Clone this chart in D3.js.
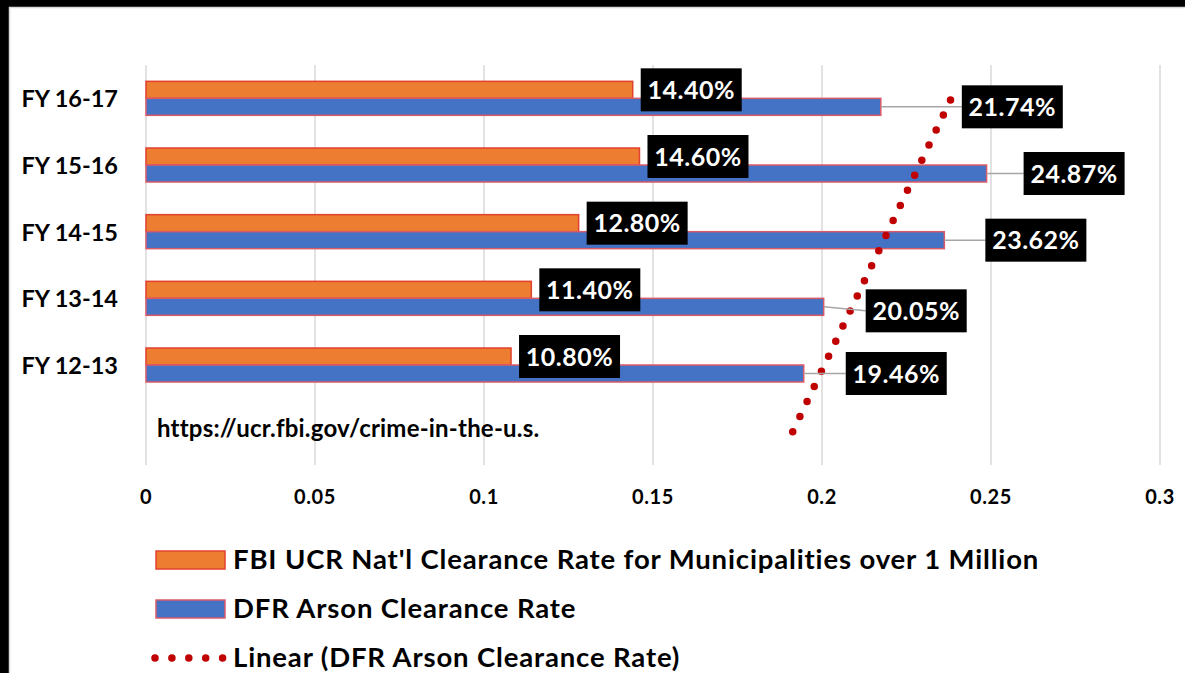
<!DOCTYPE html>
<html>
<head>
<meta charset="utf-8">
<script src="https://cdn.jsdelivr.net/npm/d3@7"></script>
<style>
  body { margin: 0; background: #fff; }
  svg { display: block; font-family: Lato, "Open Sans", sans-serif; font-weight: 700; }
</style>
</head>
<body>
<svg width="1185" height="673"></svg>
<script>
// values
const categories = ["FY 12-13", "FY 13-14", "FY 14-15", "FY 15-16", "FY 16-17"]
const fbiRates = [0.108, 0.114, 0.128, 0.146, 0.144]
const dfrRates = [0.1946, 0.2005, 0.2362, 0.2487, 0.2174]
const xTicks = [0, 0.05, 0.1, 0.15, 0.2, 0.25, 0.3]
const seriesNames = [
    "FBI UCR Nat'l Clearance Rate for Municipalities over 1 Million",
    "DFR Arson Clearance Rate",
    "Linear (DFR Arson Clearance Rate)"
]
const sourceNote = "https://ucr.fbi.gov/crime-in-the-u.s."

const orange = "#ED7D31"
const blue = "#4472C4"
const trendRed = "#C00000"

const svg = d3.select("svg")

// frame (screenshot crop edges + chart border)
svg.append("rect").attr("x", 0).attr("y", 0).attr("width", 1185).attr("height", 673).attr("fill", "#000")
svg.append("rect").attr("x", 9.5).attr("y", 7.5).attr("width", 1185).attr("height", 673)
    .attr("fill", "#fff").attr("stroke", "#d9d9d9").attr("stroke-width", 1.5)

// the bottom slot holds the backward forecast of the trendline
const slots = ["forecast"].concat(categories)

const x = d3.scaleLinear().domain([0, 0.3]).range([146, 1160])
const y = d3.scaleBand().domain(slots.slice().reverse()).range([65, 465])
const barH = 17
const mid = d => y(d) + y.bandwidth() / 2

// gridlines
svg.append("g")
    .selectAll("line")
    .data(xTicks)
    .join("line")
    .attr("x1", d => x(d)).attr("x2", d => x(d))
    .attr("y1", 65).attr("y2", 465)
    .attr("stroke", "#d9d9d9").attr("stroke-width", 1.5)

// x tick labels
svg.append("g")
    .selectAll("text")
    .data(xTicks)
    .join("text")
    .attr("x", d => x(d)).attr("y", 504)
    .attr("text-anchor", "middle")
    .style("font-size", "20px")
    .style("letter-spacing", "0.6px")
    .text(d => d3.format("")(d))

// category labels
svg.append("g")
    .selectAll("text")
    .data(categories)
    .join("text")
    .attr("x", 118).attr("y", d => mid(d) + 9)
    .attr("text-anchor", "end")
    .style("font-size", "23.5px")
    .text(d => d)

// bars
const bars = svg.append("g")
bars.selectAll("rect.fbi")
    .data(fbiRates)
    .join("rect")
    .attr("class", "fbi")
    .attr("x", x(0)).attr("y", (d, i) => mid(categories[i]) - barH)
    .attr("width", d => x(d) - x(0)).attr("height", barH)
    .attr("fill", orange).attr("stroke", "#E2412F").attr("stroke-width", 1.5)

bars.selectAll("rect.dfr")
    .data(dfrRates)
    .join("rect")
    .attr("class", "dfr")
    .attr("x", x(0)).attr("y", (d, i) => mid(categories[i]))
    .attr("width", d => x(d) - x(0)).attr("height", barH)
    .attr("fill", blue).attr("stroke", "#DB5A68").attr("stroke-width", 1.5)

// source note
svg.append("text")
    .attr("x", 157).attr("y", 437)
    .style("font-size", "24px")
    .style("letter-spacing", "0.2px")
    .text(sourceNote)

// linear trendline (least squares over category index, 1 period backward)
const idx = categories.map((c, i) => i + 1)
const mx = d3.mean(idx)
const my = d3.mean(dfrRates)
const slope = d3.sum(idx, (v, i) => (v - mx) * (dfrRates[i] - my)) / d3.sum(idx, v => (v - mx) * (v - mx))
const icpt = my - slope * mx
const trendPts = slots.map((s, i) => [x(icpt + slope * i), mid(s)])

svg.append("path")
    .attr("d", d3.line()(trendPts))
    .attr("fill", "none")
    .attr("stroke", trendRed)
    .attr("stroke-width", 7.5)
    .attr("stroke-linecap", "round")
    .attr("stroke-dasharray", "0 16.7")

// data labels
const fmt = d3.format(".2%")
const boxW = 101, boxH = 43
// manual label nudges, like the dragged labels in the original
const dfrShiftX = [42, 42, 41, 37, 81]
const dfrShiftY = [0, 4, 0, 0, 0]

function labelBox(g, bx, cy, txt) {
    g.append("rect")
        .attr("x", bx).attr("y", cy - boxH / 2)
        .attr("width", boxW).attr("height", boxH)
        .attr("fill", "#000")
    g.append("text")
        .attr("x", bx + boxW / 2).attr("y", cy + 9)
        .attr("text-anchor", "middle")
        .attr("fill", "#fff")
        .style("font-size", "25px")
        .style("letter-spacing", "0.5px")
        .text(txt)
}

const labels = svg.append("g")
fbiRates.forEach((v, i) => {
    labelBox(labels, x(v) + 8, mid(categories[i]) - barH / 2, fmt(v))
})
dfrRates.forEach((v, i) => {
    const by = mid(categories[i]) + barH / 2
    const bx = x(v) + dfrShiftX[i]
    labels.append("line")
        .attr("x1", x(v)).attr("y1", by)
        .attr("x2", bx).attr("y2", by + dfrShiftY[i])
        .attr("stroke", "#a6a6a6").attr("stroke-width", 1.5)
    labelBox(labels, bx, by + dfrShiftY[i], fmt(v))
})

// legend
const legend = svg.append("g")
const legendY = [560, 609, 658]
legend.append("rect")
    .attr("x", 156).attr("y", legendY[0] - 9).attr("width", 69).attr("height", 18)
    .attr("fill", orange).attr("stroke", "#E2412F").attr("stroke-width", 1.5)
legend.append("rect")
    .attr("x", 156).attr("y", legendY[1] - 9).attr("width", 69).attr("height", 18)
    .attr("fill", blue).attr("stroke", "#DB5A68").attr("stroke-width", 1.5)
legend.append("line")
    .attr("x1", 155).attr("x2", 225)
    .attr("y1", legendY[2]).attr("y2", legendY[2])
    .attr("stroke", trendRed).attr("stroke-width", 7.5)
    .attr("stroke-linecap", "round")
    .attr("stroke-dasharray", "0 16.9")

legend.selectAll("text")
    .data(seriesNames)
    .join("text")
    .attr("x", 233).attr("y", (d, i) => legendY[i] + 8.5)
    .style("font-size", "27.5px")
    .style("letter-spacing", "0.85px")
    .text(d => d)
</script>
</body>
</html>
